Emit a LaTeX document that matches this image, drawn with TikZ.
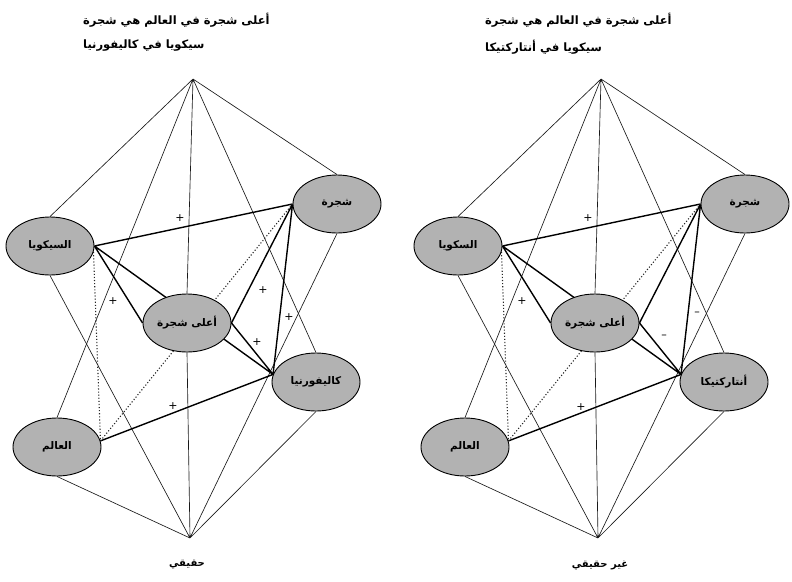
\documentclass[tikz,border=0pt]{standalone}
\usepackage{fontspec}
\newfontfamily\arabicfont[Script=Arabic]{DejaVu Sans}
\TeXXeTstate=1
\usetikzlibrary{shapes.geometric,positioning,backgrounds}

\begin{document}
\begin{tikzpicture}[x=1pt,y=-1pt,
  idea/.style={ellipse, draw=black, line width=0.9pt, fill=black!30,
    minimum width=88pt, minimum height=58pt, inner sep=0pt,
    font=\arabicfont\bfseries\fontsize{10.5}{12}\selectfont},
  rib/.style={line width=0.65pt, black!90},
  bond/.style={line width=1.4pt, black},
  hint/.style={line width=1.1pt, dotted, black!85},
  sign/.style={inner sep=0pt, font=\arabicfont\fontsize{11}{12}\selectfont},
  heading/.style={anchor=west, inner sep=0pt,
    font=\arabicfont\bfseries\fontsize{11.5}{13}\selectfont},
  verdict/.style={inner sep=0pt, font=\arabicfont\bfseries\fontsize{10}{12}\selectfont}]

\useasboundingbox (0,0) rectangle (792,581);

% left: real
\node[heading] (title_1a) at (83,20) {\beginR أعلى شجرة في العالم هي شجرة\endR};
\node[heading] (title_1b) at (83,46) {\beginR سيكويا في كاليفورنيا\endR};

\coordinate (A_1) at (193,79);
\coordinate (B_1) at (190,538);
\node[idea] (S_1) at (50,246)  {\beginR السيكويا\endR};
\node[idea] (C_1) at (337,204) {\beginR شجرة\endR};
\node[idea] (H_1) at (187,323) {\beginR أعلى شجرة\endR};
\node[idea] (K_1) at (316,382) {\beginR كاليفورنيا\endR};
\node[idea] (W_1) at (57,447)  {\beginR العالم\endR};
\node[verdict] (V_1) at (187,565) {\beginR حقيقي\endR};

\begin{scope}[on background layer]
\draw[rib] (A_1) -- (S_1.north)  (A_1) -- (W_1.north)  (A_1) -- (H_1.north)
           (A_1) -- (K_1.north)  (A_1) -- (C_1.north);
\draw[rib] (B_1) -- (S_1.south)  (B_1) -- (W_1.south)  (B_1) -- (H_1.south)
           (B_1) -- (C_1.south)  (B_1) -- (K_1.south);
\draw[bond] (S_1.east) -- (C_1.west)  (S_1.east) -- (H_1.west)
            (S_1.east) -- (K_1.170)   (H_1.east) -- (C_1.west)
            (H_1.east) -- (K_1.170)   (C_1.west) -- (K_1.170)
            (K_1.170) -- (W_1.8);
\draw[hint] (S_1.-8) -- (W_1.8)  (C_1.west) -- (W_1.8);
\end{scope}

\node[sign] (p_1) at (180,218) {+};
\node[sign] (p_2) at (113,301) {+};
\node[sign] (p_3) at (263,290) {+};
\node[sign] (p_4) at (289,317) {+};
\node[sign] (p_5) at (257,342) {+};
\node[sign] (p_6) at (173,406) {+};

% right: not real
\node[heading] (title_2a) at (485,20) {\beginR أعلى شجرة في العالم هي شجرة\endR};
\node[heading] (title_2b) at (485,47) {\beginR سيكويا في أنتاركتيكا\endR};

\coordinate (A_2) at (601,79);
\coordinate (B_2) at (598,538);
\node[idea] (S_2) at (458,246) {\beginR السكويا\endR};
\node[idea] (C_2) at (745,204) {\beginR شجرة\endR};
\node[idea] (H_2) at (595,323) {\beginR أعلى شجرة\endR};
\node[idea] (K_2) at (724,382) {\beginR أنتاركتيكا\endR};
\node[idea] (W_2) at (465,447) {\beginR العالم\endR};
\node[verdict] (V_2) at (600,565) {\beginR غير حقيقي\endR};

\begin{scope}[on background layer]
\draw[rib] (A_2) -- (S_2.north)  (A_2) -- (W_2.north)  (A_2) -- (H_2.north)
           (A_2) -- (K_2.north)  (A_2) -- (C_2.north);
\draw[rib] (B_2) -- (S_2.south)  (B_2) -- (W_2.south)  (B_2) -- (H_2.south)
           (B_2) -- (C_2.south)  (B_2) -- (K_2.south);
\draw[bond] (S_2.east) -- (C_2.west)  (S_2.east) -- (H_2.west)
            (S_2.east) -- (K_2.170)   (H_2.east) -- (C_2.west)
            (H_2.east) -- (K_2.170)   (C_2.west) -- (K_2.170)
            (K_2.170) -- (W_2.8);
\draw[hint] (S_2.-8) -- (W_2.8)  (C_2.west) -- (W_2.8);
\end{scope}

\node[sign] (q_1) at (588,218) {+};
\node[sign] (q_2) at (522,301) {+};
\node[sign] (q_3) at (697,314) {–};
\node[sign] (q_4) at (664,337) {–};
\node[sign] (q_5) at (581,407) {+};
\end{tikzpicture}
\end{document}
